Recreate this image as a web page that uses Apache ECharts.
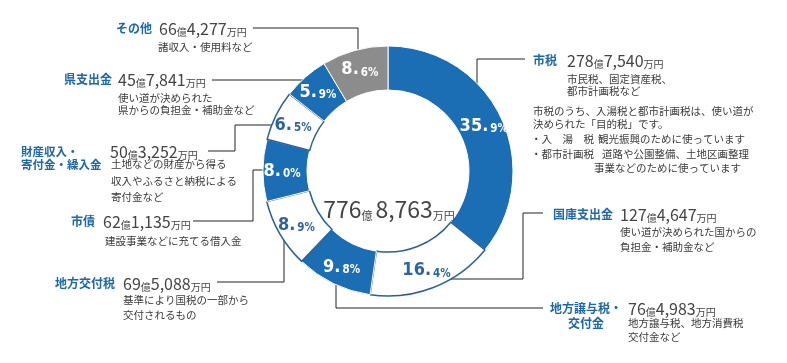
<!DOCTYPE html>
<html><head><meta charset="utf-8">
<script src="https://cdn.jsdelivr.net/npm/echarts@6/dist/echarts.min.js"></script>
<style>html,body{margin:0;padding:0;background:#fff}#c{width:787px;height:363px}</style>
</head><body><div id="c"></div>
<script>
// ---- data ----
const categories = ['市税','国庫支出金','地方譲与税・交付金','地方交付税','市債','財産収入・寄付金・繰入金','県支出金','その他'];
const amounts = [2787540,1274647,764983,695088,621135,503252,457841,664277]; // 万円
const percents = [35.9,16.4,9.8,8.9,8.0,6.5,5.9,8.6];
const totalAmount = 7768763; // 万円
const fillKinds = ['blue','white','blue','white','blue','white','blue','gray'];
const nameLines = [['市税'],['国庫支出金'],['地方譲与税・','交付金'],['地方交付税'],['市債'],['財産収入・','寄付金・繰入金'],['県支出金'],['その他']];
const descriptions = [
  ['市民税、固定資産税、','都市計画税など'],
  ['使い道が決められた国からの','負担金・補助金など'],
  ['地方譲与税、地方消費税','交付金など'],
  ['基準により国税の一部から','交付されるもの'],
  ['建設事業などに充てる借入金'],
  ['土地などの財産から得る','収入やふるさと納税による','寄付金など'],
  ['使い道が決められた','県からの負担金・補助金など'],
  ['諸収入・使用料など']
];
const noteLines = ['市税のうち、入湯税と都市計画税は、使い道が','決められた「目的税」です。'];
const noteItems = [['・入　湯　税','観光振興のために使っています'],['・都市計画税','道路や公園整備、土地区画整理'],['','事業などのために使っています']];

// ---- styles / layout ----
const BLUE = '#1b6db4', DARK = '#2b6099', GRAY = '#8c8c8c', NAMEC = '#1f68a8', TXT = '#3a3a3a';
const FF = "'Noto Sans CJK JP', sans-serif";
const PF = "'Liberation Sans Narrow', 'DejaVu Sans Condensed', sans-serif";
const layout = [
  {nx:533, ny:[60], na:'left',  vx:567, vy:60,  dx:567, dy:[79,91], fs:12},
  {nx:613, ny:[214], na:'right', vx:620, vy:214, dx:620, dy:[232,247], fs:12},
  {nx:586, ny:[308,323], na:'center', vx:628, vy:308, dx:628, dy:[323,337], fs:12},
  {nx:115, ny:[283], na:'right', vx:123, vy:283, dx:123, dy:[300,315], fs:12},
  {nx:95,  ny:[221], na:'right', vx:103, vy:221, dx:105, dy:[241], fs:12},
  {nx:21,  ny:[152,165], na:'left', vx:110, vy:151, dx:111, dy:[164,181,197], fs:11.5},
  {nx:112, ny:[79], na:'right', vx:118, vy:79, dx:118, dy:[98,110], fs:12},
  {nx:152, ny:[28], na:'right', vx:159, vy:28, dx:158, dy:[47], fs:12}
];
const leaders = [
  [[477,84],[477,59],[525,59]],
  [[444,279],[523,279],[523,213],[543,213]],
  [[336,280],[336,308],[543,308]],
  [[284,238],[284,282],[217,282]],
  [[268,170],[253,170],[253,221],[193,221]],
  [[275,125],[235,125],[235,151],[208,151]],
  [[306,80],[212,80]],
  [[358,54],[358,28],[253,28]]
];

function fmtMan(a){ // 万円 -> {oku, man}
  const oku = Math.floor(a/10000), man = a % 10000;
  return {oku: String(oku), man: man.toLocaleString('en-US')};
}

const colorOf = k => k==='blue'?BLUE:(k==='gray'?GRAY:'#ffffff');
const pieData = categories.map((n,i)=>({
  name:n, value:amounts[i],
  itemStyle: fillKinds[i]==='white'
    ? {color:'#ffffff', borderColor:DARK, borderWidth:1.5}
    : {color:colorOf(fillKinds[i]), borderColor:'#ffffff', borderWidth:1},
  label:{color: fillKinds[i]==='white' ? '#2d64a0' : '#ffffff'}
}));

const graphics = [];
const valueRich = {
  d:{fontSize:16, fontFamily:FF, fill:'#444', verticalAlign:'bottom', lineHeight:18},
  s:{fontSize:10, fontFamily:FF, fill:'#444', verticalAlign:'bottom', lineHeight:15}
};
categories.forEach((n,i)=>{
  const L = layout[i];
  nameLines[i].forEach((t,j)=>{
    graphics.push({type:'text', z:10, style:{text:t, x:L.nx, y:L.ny[j], fill:NAMEC, font:'bold '+L.fs+'px '+FF, textAlign:L.na, textVerticalAlign:'middle'}});
  });
  const v = fmtMan(amounts[i]);
  graphics.push({type:'text', z:10, style:{text:'{d|'+v.oku+'}{s|億}{d|'+v.man+'}{s|万円}', x:L.vx, y:L.vy, rich:valueRich, textAlign:'left', textVerticalAlign:'middle'}});
  descriptions[i].forEach((t,j)=>{
    graphics.push({type:'text', z:10, style:{text:t, x:L.dx, y:L.dy[j], fill:TXT, font:'10.5px '+FF, textAlign:'left', textVerticalAlign:'middle'}});
  });
  graphics.push({type:'polyline', z:1, shape:{points:leaders[i]}, style:{stroke:'#222', lineWidth:1, fill:null}});
});
noteLines.forEach((t,j)=>{
  graphics.push({type:'text', z:10, style:{text:t, x:533, y:[111,124][j], fill:TXT, font:'10.5px '+FF, textAlign:'left', textVerticalAlign:'middle'}});
});
noteItems.forEach((p,j)=>{
  const y = [139,154,168][j];
  if (p[0]) graphics.push({type:'text', z:10, style:{text:p[0], x:531, y:y, fill:TXT, font:'10.5px '+FF, textAlign:'left', textVerticalAlign:'middle'}});
  graphics.push({type:'text', z:10, style:{text:p[1], x:[598,602,594][j], y:y, fill:TXT, font:'10.5px '+FF, textAlign:'left', textVerticalAlign:'middle'}});
});
const tv = fmtMan(totalAmount);
graphics.push({type:'text', z:10, style:{text:'{d|'+tv.oku+'}{s|億}{g|'+tv.man+'}{s|万円}', x:389, y:208,
  rich:{d:{fontSize:23, fontFamily:FF, fill:'#444', verticalAlign:'bottom', lineHeight:26},
        g:{fontSize:23, fontFamily:FF, fill:'#444', verticalAlign:'bottom', lineHeight:26, padding:[0,0,0,3]},
        s:{fontSize:11, fontFamily:FF, fill:'#444', verticalAlign:'bottom', lineHeight:19}},
  textAlign:'center', textVerticalAlign:'middle'}});

const chart = echarts.init(document.getElementById('c'), null, {renderer:'canvas'});
chart.setOption({
  animation:false,
  backgroundColor:'#ffffff',
  graphic: graphics,
  series:[{
    type:'pie', z:5, center:[388,171], radius:[81,125], startAngle:90, clockwise:true,
    avoidLabelOverlap:false, silent:true,
    label:{show:true, position:'inside',
      formatter: p => { const s = percents[p.dataIndex].toFixed(1).split('.'); return '{a|'+s[0]+'.}{b|'+s[1]+'%}'; },
      rich:{a:{fontSize:18, fontWeight:'bold', fontFamily:PF, verticalAlign:'bottom', lineHeight:20},
            b:{fontSize:11.5, fontWeight:'bold', fontFamily:PF, verticalAlign:'bottom', lineHeight:16, padding:[0,0,0,2]}}
    },
    labelLine:{show:false},
    emphasis:{disabled:true},
    data: pieData
  }]
});
</script></body></html>
